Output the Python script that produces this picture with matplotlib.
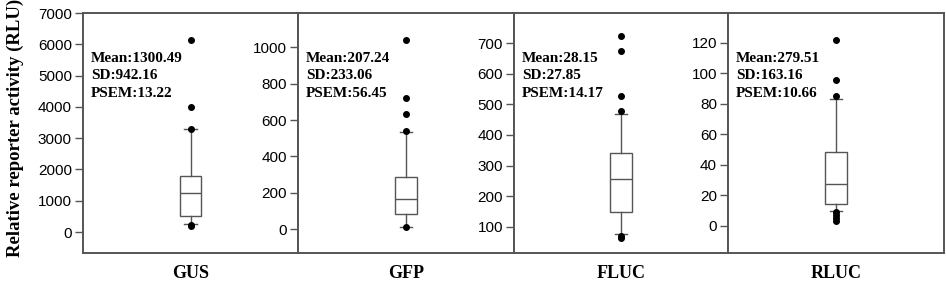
import matplotlib
matplotlib.use("Agg")
import matplotlib.pyplot as plt

# Reporter genes
genes = ["GUS", "GFP", "FLUC", "RLUC"]

# Box statistics (q1, median, q3, whisker low, whisker high)
gus_box = [521, 1246, 1777, 265, 3290]
gfp_box = [84, 167, 288, 9, 536]
fluc_box = [149, 257, 341, 78, 469]
rluc_box = [14.4, 27.3, 48.1, 9.6, 82.9]

# Outliers
gus_fliers = [6130, 3995, 3300, 233, 180]
gfp_fliers = [1040, 723, 634, 541, 9]
fluc_fliers = [722, 675, 526, 477, 71, 65]
rluc_fliers = [121.5, 95.5, 85.2, 9.0, 7.0, 5.0, 3.0]

# Summary text per panel
mean_vals = ["1300.49", "207.24", "28.15", "279.51"]
sd_vals = ["942.16", "233.06", "27.85", "163.16"]
psem_vals = ["13.22", "56.45", "14.17", "10.66"]

# Axis ranges and ticks
ylims = [(-670, 7000), (-132, 1190), (15, 798), (-17.9, 139.5)]
yticks = [range(0, 7001, 1000), range(0, 1001, 200), range(100, 701, 100), range(0, 121, 20)]

boxes = [gus_box, gfp_box, fluc_box, rluc_box]
fliers = [gus_fliers, gfp_fliers, fluc_fliers, rluc_fliers]

W, H = 946, 283
fig = plt.figure(figsize=(W / 100, H / 100), dpi=100)

lefts = [83, 298, 514, 728]
rights = [298, 514, 728, 944]
top_px, bot_px = 13, 253
edge = "#555555"

for i, gene in enumerate(genes):
    ax = fig.add_axes([lefts[i] / W, 1 - bot_px / H, (rights[i] - lefts[i]) / W, (bot_px - top_px) / H])
    q1, med, q3, lo, hi = boxes[i]
    stats = [dict(q1=q1, med=med, q3=q3, whislo=lo, whishi=hi, fliers=fliers[i], label=gene)]
    ax.bxp(
        stats,
        positions=[0],
        widths=0.2,
        showfliers=True,
        patch_artist=True,
        boxprops=dict(facecolor="white", edgecolor=edge, linewidth=1.0),
        medianprops=dict(color=edge, linewidth=1.0),
        whiskerprops=dict(color=edge, linewidth=1.0),
        capprops=dict(color=edge, linewidth=1.0),
        capwidths=0.12,
        flierprops=dict(marker="o", markerfacecolor="black", markeredgecolor="black", markersize=4),
    )
    ax.set_xlim(-1, 1)
    ax.set_ylim(*ylims[i])
    ax.set_yticks(list(yticks[i]))
    ax.set_xticks([0])
    ax.set_xticklabels([gene], fontfamily="Liberation Serif", fontweight="bold", fontsize=13)
    ax.tick_params(axis="x", length=0, pad=9)
    ax.tick_params(axis="y", direction="out", length=6, width=1, color=edge, labelsize=11, pad=2)
    for lab in ax.get_yticklabels():
        lab.set_fontfamily("Liberation Sans")
    for sp in ax.spines.values():
        sp.set_color(edge)
        sp.set_linewidth(1.4)

    lines = [f"Mean:{mean_vals[i]}", f"SD:{sd_vals[i]}", f"PSEM:{psem_vals[i]}"]
    for j, line in enumerate(lines):
        ax.text(0.037, 0.8125 - j * 0.073, line, transform=ax.transAxes, ha="left", va="center",
                fontfamily="Liberation Serif", fontweight="bold", fontsize=11)

fig.text(15 / W, 1 - 128 / H, "Relative reporter activity (RLU)", rotation=90, ha="center", va="center",
         fontfamily="Liberation Serif", fontweight="bold", fontsize=13.5)

fig.savefig("out.png", dpi=100)
